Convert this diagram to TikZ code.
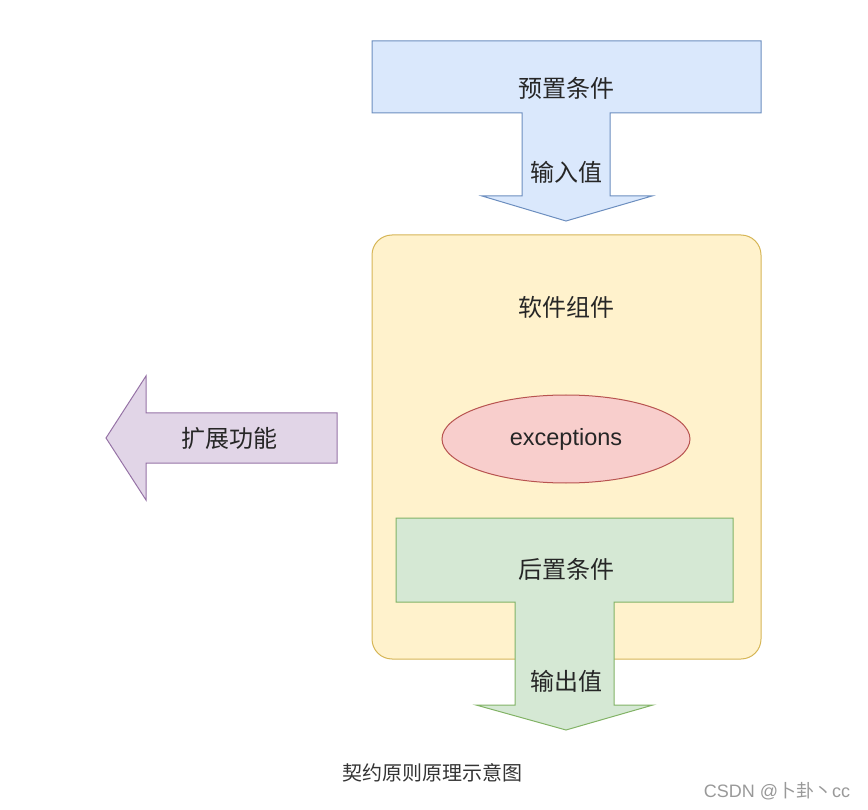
\documentclass[tikz,border=0pt]{standalone}
\usepackage{fontspec}
\setmainfont{Liberation Sans}
\newfontfamily\cjk{Noto Sans CJK SC}
\usepackage{tikz}
\usetikzlibrary{shapes.geometric}

\definecolor{bluefill}{HTML}{DAE8FC}
\definecolor{blueline}{HTML}{6C8EBF}
\definecolor{yellowfill}{HTML}{FFF2CC}
\definecolor{yellowline}{HTML}{D6B656}
\definecolor{redfill}{HTML}{F8CECC}
\definecolor{redline}{HTML}{B85450}
\definecolor{greenfill}{HTML}{D5E8D4}
\definecolor{greenline}{HTML}{82B366}
\definecolor{purplefill}{HTML}{E1D5E7}
\definecolor{purpleline}{HTML}{9673A6}

\begin{document}
\begin{tikzpicture}[x=1pt,
            y=-1pt,
            line width=1pt,
            line join=miter,
            lbl/.style={font=\cjk\fontsize{24}{28}\selectfont, text=black!85},
            caption/.style={font=\cjk\fontsize{20}{24}\selectfont, text=black!80}]

        \useasboundingbox (0,0) rectangle (868,810);

        % software component
        \draw[fill=yellowfill, draw=yellowline, rounded corners=20pt]
            (372,235) rectangle (761,659);
        \node[ellipse, draw=redline, fill=redfill, minimum width=248pt,
              minimum height=88pt, inner sep=0pt,
              font=\fontsize{23.5}{28}\selectfont, text=black!85]
              (exc) at (566,439) {exceptions};

        % postcondition, output
        \draw[fill=greenfill, draw=greenline]
            (396,518) -- (733,518) -- (733,602) -- (614,602) -- (614,705)
            -- (653,705) -- (566,730) -- (476,705) -- (515,705) -- (515,602)
            -- (396,602) -- cycle;

        % precondition, input
        \draw[fill=bluefill, draw=blueline]
            (372,41) -- (761,41) -- (761,113) -- (610,113) -- (610,196)
            -- (652,196) -- (566,221) -- (482,196) -- (522,196) -- (522,113)
            -- (372,113) -- cycle;

        % extension
        \draw[fill=purplefill, draw=purpleline]
            (106,438) -- (146,376) -- (146,413) -- (337,413) -- (337,463)
            -- (146,463) -- (146,500) -- cycle;

        \node[lbl] (pre)  at (566,88)  {预置条件};
        \node[lbl] (in)   at (566,172) {输入值};
        \node[lbl] (comp) at (566,307) {软件组件};
        \node[lbl] (post) at (566,569) {后置条件};
        \node[lbl] (out)  at (566,681) {输出值};
        \node[lbl] (ext)  at (229,438) {扩展功能};

        \node[caption] (cap) at (432,773) {契约原则原理示意图};
        \node[font=\fontsize{18}{22}\selectfont, text=black!40]
            (mark) at (777,791) {CSDN @{\cjk 卜卦丶}cc};

    \end{tikzpicture}
\end{document}
